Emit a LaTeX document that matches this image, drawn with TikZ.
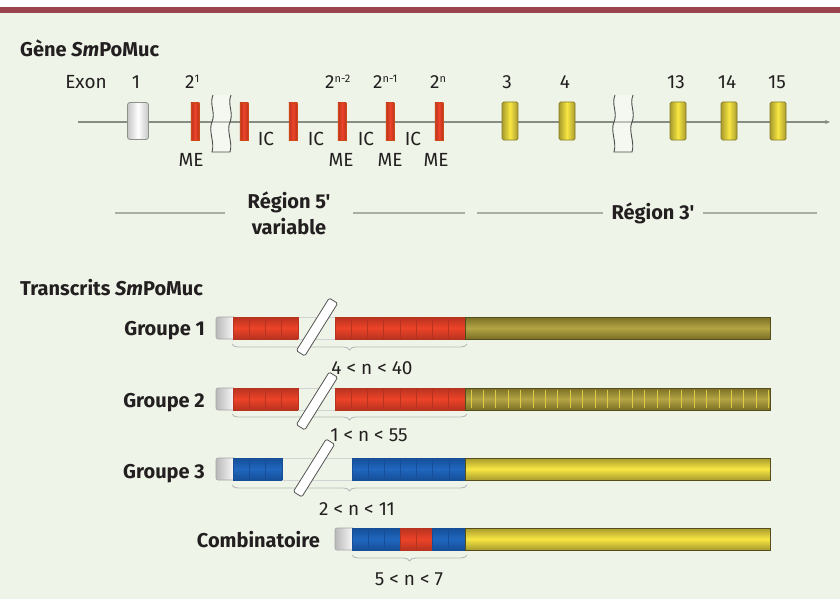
\documentclass[tikz,border=0pt]{standalone}
\usepackage{fontspec}
\setmainfont{Fira Sans}[Ligatures=TeXOff]
\newfontfamily\lightf{Fira Sans}[Ligatures=TeXOff]
\usetikzlibrary{decorations.pathreplacing,arrows.meta}
\definecolor{bgc}{HTML}{EEF4E7}
\definecolor{topbar}{HTML}{9B4450}
\definecolor{ink}{HTML}{231F20}
\definecolor{gline}{HTML}{878C84}
\definecolor{regc}{HTML}{A9AEA6}
\definecolor{redm}{HTML}{EC4428}
\definecolor{redd}{HTML}{B83220}
\definecolor{bluem}{HTML}{1F66BE}
\definecolor{blued}{HTML}{164F98}
\definecolor{oliveD}{HTML}{7A6F26}
\definecolor{oliveM}{HTML}{B3A444}
\definecolor{yelM}{HTML}{F7E642}
\definecolor{yelD}{HTML}{A89B2E}
\definecolor{greyD}{HTML}{8E908A}
\newcommand{\supx}[1]{\raisebox{6.5pt}{\fontsize{11}{11}\selectfont #1}}
% segment: x0 x1 ytop n dark mid
\newcommand{\seg}[6]{%
  \shade[top color=#5, bottom color=#5, middle color=#6] (#1,#3) rectangle (#2,#3+22);
  \foreach \i in {0,...,#4} {\draw[#5, line width=0.7pt] ({#1+\i*(#2-#1)/#4},#3) -- ++(0,22);}
}
\newcommand{\capx}[2]{% x0 ytop
  \shade[rounded corners=2pt, left color=gray!55, right color=white] (#1,#2) rectangle (#1+20,#2+22);
  \draw[gray!70, line width=0.6pt, rounded corners=2pt] (#1+18,#2) -- (#1,#2) -- (#1,#2+22) -- (#1+18,#2+22);
}
\begin{document}
\begin{tikzpicture}[x=1pt,y=-1pt,
  lbl/.style={font=\lightf\fontsize{19}{19}\selectfont, text=ink, inner sep=0pt},
  hdr/.style={font=\bfseries\fontsize{20}{26}\selectfont, text=ink, inner sep=0pt},
  exgrey/.style={minimum width=21pt, minimum height=37pt, inner sep=0pt, rounded corners=2.5pt, draw=greyD, line width=0.8pt, left color=gray!45, right color=gray!45, middle color=white},
  exred/.style={minimum width=8.5pt, minimum height=37pt, inner sep=0pt, draw=redd!70!orange, line width=0.4pt, left color=redd, right color=redd, middle color=redm},
  exyel/.style={minimum width=16pt, minimum height=38pt, inner sep=0pt, rounded corners=1.5pt, draw=yelD!80!black, line width=0.7pt, left color=yelD, right color=yelD, middle color=yelM},
  regl/.style={draw=regc, line width=1.6pt},
  brk/.style={draw=gray!65!black, fill=white, minimum width=62pt, minimum height=10pt, inner sep=0pt, rounded corners=1.5pt, line width=0.8pt, rotate=58},
  brc/.style={draw=gray!55, line width=0.9pt, decorate, decoration={brace, mirror, amplitude=6pt}},
  barline/.style={draw=oliveD!70!black, line width=0.7pt},
  gapline/.style={draw=gray!35, line width=0.6pt},
]
\useasboundingbox (0,0) rectangle (840,599);
\fill[bgc] (0,0) rectangle (840,599);
\fill[white] (0,0) rectangle (840,7);
\fill[topbar] (0,7) rectangle (840,13);

% ---- Gene ----
\node[hdr, anchor=base west] (h1) at (20,57) {Gène \textit{Sm}PoMuc};

\coordinate (gs) at (78,122);
\coordinate (ge) at (830,122);
\draw[gline, line width=1.1pt, -{Stealth[length=5pt,width=4pt]}] (gs) -- (ge);

\foreach \sx in {212,614} {
  \fill[white, opacity=0.45] (\sx+1,95) .. controls (\sx-3,105) and (\sx+4,112) .. (\sx,122) .. controls (\sx-4,131) and (\sx+3,142) .. (\sx,152) -- (\sx+18,152) .. controls (\sx+21,142) and (\sx+14,131) .. (\sx+18,122) .. controls (\sx+22,112) and (\sx+15,105) .. (\sx+19,95) -- cycle;
  \draw[gray!60!black, line width=0.9pt] (\sx+1,95) .. controls (\sx-3,105) and (\sx+4,112) .. (\sx,122) .. controls (\sx-4,131) and (\sx+3,142) .. (\sx,152) -- (\sx+18,152) .. controls (\sx+21,142) and (\sx+14,131) .. (\sx+18,122) .. controls (\sx+22,112) and (\sx+15,105) .. (\sx+19,95);
}

\node[exgrey] (ex1) at (138,121) {};
\foreach \n/\x in {a/195,b/244,c/293,d/342,e/390,f/439} \node[exred] (r\n) at (\x,121.5) {};
\foreach \n/\x in {3/510,4/567,13/678,14/729,15/778} \node[exyel] (y\n) at (\x,121) {};

\node[lbl, anchor=base] (lexon) at (86,89) {Exon};
\node[lbl, anchor=base] (l1) at (136,89) {1};
\node[lbl, anchor=base west] (l21) at (185,89) {2\supx{1}};
\node[lbl, anchor=base west] (l2n2) at (325,89) {2\supx{n-2}};
\node[lbl, anchor=base west] (l2n1) at (373,89) {2\supx{n-1}};
\node[lbl, anchor=base west] (l2n) at (430,89) {2\supx{n}};
\node[lbl, anchor=base] (l3) at (507,89) {3};
\node[lbl, anchor=base] (l4) at (565,89) {4};
\node[lbl, anchor=base] (l13) at (676,89) {13};
\node[lbl, anchor=base] (l14) at (727,89) {14};
\node[lbl, anchor=base] (l15) at (777,89) {15};

\foreach \n/\x in {a/191,b/341,c/390,d/436} \node[lbl, anchor=base] (me\n) at (\x,166) {ME};
\foreach \n/\x in {a/266,b/316,c/366,d/413} \node[lbl, anchor=base] (ic\n) at (\x,146) {IC};

% ---- Regions ----
\coordinate (r5l) at (115,213);
\coordinate (r5r) at (465,213);
\node[hdr, align=center, minimum width=128pt] (r5) at (289,213) {Région 5'\\variable};
\draw[regl] (r5l) -- (r5);
\draw[regl] (r5) -- (r5r);
\coordinate (r3l) at (477,213);
\coordinate (r3r) at (817,213);
\node[hdr, minimum width=100pt] (r3) at (653,213) {Région 3'};
\draw[regl] (r3l) -- (r3);
\draw[regl] (r3) -- (r3r);

% ---- Transcripts ----
\node[hdr, anchor=base west] (h2) at (20,295) {Transcrits \textit{Sm}PoMuc};

% Groupe 1
\node[hdr, anchor=base east] (g1) at (205,335) {Groupe 1};
\draw[gapline] (298,317) -- (335,317) (298,339) -- (335,339);
\capx{216}{317}
\seg{233}{298}{317}{4}{redd}{redm}
\seg{335}{465}{317}{8}{redd}{redm}
\shade[top color=oliveD, bottom color=oliveD, middle color=oliveM] (465,317) rectangle (770,339);
\draw[barline] (465,317) rectangle (770,339);

% Groupe 2
\node[hdr, anchor=base east] (g2) at (205,407) {Groupe 2};
\draw[gapline] (298,388) -- (335,388) (298,410) -- (335,410);
\capx{216}{388}
\seg{233}{298}{388}{4}{redd}{redm}
\seg{335}{465}{388}{8}{redd}{redm}
\shade[top color=oliveD, bottom color=oliveD, middle color=oliveM] (465,388) rectangle (770,410);
\foreach \k in {0,...,24} \draw[yelM!60!oliveM, line width=0.9pt] ({471+\k*12.4},390) -- ++(0,18);
\draw[barline] (465,388) rectangle (770,410);

% Groupe 3
\node[hdr, anchor=base east] (g3) at (205,478) {Groupe 3};
\draw[gapline] (282,458) -- (352,458) (282,480) -- (352,480);
\capx{216}{458}
\seg{233}{282}{458}{3}{blued}{bluem}
\seg{352}{465}{458}{7}{blued}{bluem}
\shade[top color=yelD, bottom color=yelD, middle color=yelM] (465,458) rectangle (770,480);
\draw[barline] (465,458) rectangle (770,480);

% Combinatoire
\node[hdr, anchor=base east] (g4) at (320,547) {Combinatoire};
\capx{335}{528}
\seg{352}{400}{528}{3}{blued}{bluem}
\seg{400}{432}{528}{2}{redd}{redm}
\seg{432}{465}{528}{2}{blued}{bluem}
\shade[top color=yelD, bottom color=yelD, middle color=yelM] (465,528) rectangle (770,550);
\draw[barline] (465,528) rectangle (770,550);

% braces
\coordinate (b1l) at (232,344); \coordinate (b1r) at (467,344);
\coordinate (b2l) at (232,414); \coordinate (b2r) at (467,414);
\coordinate (b3l) at (232,485); \coordinate (b3r) at (467,485);
\coordinate (b4l) at (352,555); \coordinate (b4r) at (467,555);
\draw[brc] (b1l) -- (b1r);
\draw[brc] (b2l) -- (b2r);
\draw[brc] (b3l) -- (b3r);
\draw[brc] (b4l) -- (b4r);

\node[lbl] (n1) at (372,368) {4 < n < 40};
\node[lbl] (n2) at (369,435) {1 < n < 55};
\node[lbl] (n3) at (357,509) {2 < n < 11};
\node[lbl] (n4) at (409,579) {5 < n < 7};

% break symbols
\node[brk] (k1) at (317,327) {};
\node[brk] (k2) at (317,401) {};
\node[brk] (k3) at (314,468) {};
\end{tikzpicture}
\end{document}
